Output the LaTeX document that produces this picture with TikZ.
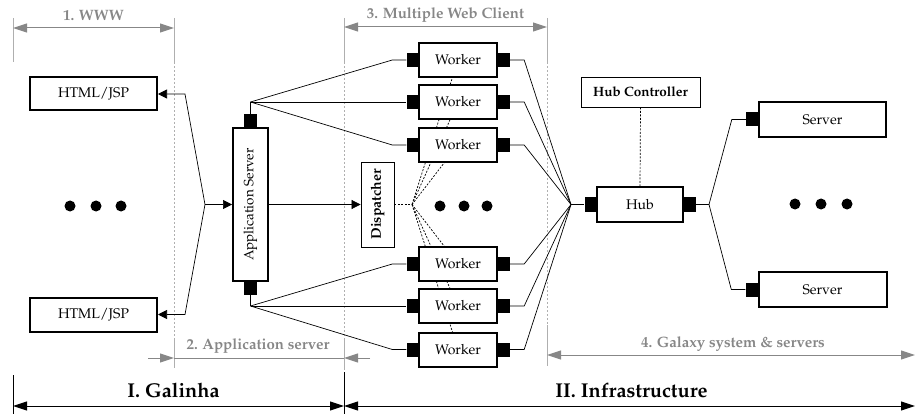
\documentclass[tikz,border=0pt]{standalone}
\usepackage[T1]{fontenc}
\usepackage{mathpazo}
\usetikzlibrary{arrows.meta,backgrounds}
\definecolor{dimgray}{RGB}{135,135,135}
\definecolor{guidegray}{RGB}{175,175,175}
\begin{document}
\begin{tikzpicture}[x=1pt,y=-1pt,
  box/.style={draw, line width=2pt, fill=white, inner sep=0pt, font=\fontsize{14}{16}\selectfont},
  wbox/.style={box, minimum width=78pt, minimum height=34pt},
  thinbox/.style={draw, line width=0.8pt, fill=white, inner sep=0pt, font=\bfseries\fontsize{13.5}{16}\selectfont},
  port/.style={fill=black, inner sep=0pt, minimum width=12pt, minimum height=14pt},
  vport/.style={fill=black, inner sep=0pt, minimum width=13pt, minimum height=13pt},
  conn/.style={line width=0.7pt},
  arr/.style={conn, -{Triangle[length=9pt,width=9pt]}},
  dotn/.style={circle, fill=black, inner sep=0pt, minimum size=11pt},
  guide/.style={guidegray, line width=0.8pt, dash pattern=on 2pt off 2pt},
  wit/.style={guidegray, line width=1pt},
  dimarr/.style={dimgray, line width=1pt, {Triangle[length=14pt,width=9pt]}-{Triangle[length=14pt,width=9pt]}},
  dimone/.style={dimgray, line width=1pt, -{Triangle[length=14pt,width=9pt]}},
  dimlab/.style={dimgray, font=\bfseries\fontsize{15}{17}\selectfont, inner sep=0pt},
  bigarr/.style={line width=1pt, {Triangle[length=14pt,width=9pt]}-{Triangle[length=14pt,width=9pt]}},
  biglab/.style={font=\bfseries\fontsize{20}{23}\selectfont, inner sep=0pt}
]
\useasboundingbox (0,0) rectangle (915,414);

% ---------- nodes ----------
\node[box, minimum width=127pt, minimum height=33pt] (h1) at (93.5,94) {HTML/JSP};
\node[box, minimum width=127pt, minimum height=34pt] (h2) at (93.5,314.5) {HTML/JSP};
\node[dotn] (ld1) at (70,206) {};
\node[dotn] (ld2) at (96,206) {};
\node[dotn] (ld3) at (121,206) {};

\node[box, minimum width=35pt, minimum height=153pt,
      label={[rotate=90, font=\fontsize{13.5}{16}\selectfont]center:Application Server}] (app) at (250.5,204.5) {};
\node[vport] (appT) at ([yshift=6.5pt]app.north) {};
\node[vport] (appB) at ([yshift=-6.5pt]app.south) {};
\coordinate (J1) at (250.5,102);
\coordinate (J2) at (250.5,306);
\coordinate (L) at (205,204.5);

\node[thinbox, minimum width=33pt, minimum height=85pt,
      label={[rotate=90, font=\bfseries\fontsize{14}{16}\selectfont]center:Dispatcher}] (disp) at (377.5,204.5) {};
\coordinate (D) at (412,204.5);

\foreach \i/\y in {1/60,2/102,3/145,4/264,5/306,6/349.5}{
  \node[wbox] (w\i) at (458,\y) {Worker};
  \node[port] (w\i l) at ([xshift=-5.5pt]w\i.west) {};
  \node[port] (w\i r) at ([xshift=6pt]w\i.east) {};
}
\node[dotn] (md1) at (440,206) {};
\node[dotn] (md2) at (464,206) {};
\node[dotn] (md3) at (487,206) {};

\node[wbox, minimum width=86pt, minimum height=35pt] (hub) at (640,204.5) {Hub};
\node[port] (hubL) at ([xshift=-5.5pt]hub.west) {};
\node[port] (hubR) at ([xshift=6pt]hub.east) {};
\coordinate (H) at (571,204.5);
\coordinate (S) at (709,204.5);
\node[thinbox, minimum width=119pt, minimum height=30pt] (hc) at (640.5,92) {Hub Controller};

\node[wbox, minimum width=127pt, minimum height=35pt] (s1) at (822.5,119.5) {Server};
\node[wbox, minimum width=128pt, minimum height=35pt] (s2) at (822.5,289.5) {Server};
\node[port] (s1p) at ([xshift=-6pt]s1.west) {};
\node[port] (s2p) at ([xshift=-6pt]s2.west) {};
\node[dotn] (rd1) at (795,204) {};
\node[dotn] (rd2) at (821,204) {};
\node[dotn] (rd3) at (847,204) {};

% ---------- background lines ----------
\begin{scope}[on background layer]
  \draw[guide] (174,62) -- (174,340);
  \draw[guide] (344,62) -- (344,340);
  \draw[guide] (547,62) -- (547,325);
  \foreach \i in {1,...,6} \draw[conn, dash pattern=on 2pt off 1.5pt] (D) -- (w\i.center);
\end{scope}

% ---------- connectors ----------
\draw[arr] (L) -- ([xshift=27pt]h1.east) -- (h1.east);
\draw[arr] (L) -- ([xshift=27pt]h2.east) -- (h2.east);
\draw[arr] (L) -- (app.west);
\draw[conn] (appT.north) -- (J1);
\draw[conn] (appB.south) -- (J2);
\draw[arr] (app.east) -- (disp.west);
\draw[conn, dash pattern=on 2pt off 1.5pt] (disp.east) -- (D);

\foreach \i in {1,3}{
  \draw[conn] (J1) -- ([xshift=-14pt]w\i l.west) -- (w\i l.west);
}
\draw[conn] (J1) -- (w2l.west);
\foreach \i in {4,6}{
  \draw[conn] (J2) -- ([xshift=-14pt]w\i l.west) -- (w\i l.west);
}
\draw[conn] (J2) -- (w5l.west);
\foreach \i in {1,...,6}{
  \draw[conn] (w\i r.east) -- ([xshift=14pt]w\i r.east) -- (H);
}
\draw[conn] (H) -- (hubL.west);
\draw[conn] (hubR.east) -- (S);
\draw[conn] (S) -- ([xshift=-14pt]s1p.west) -- (s1p.west);
\draw[conn] (S) -- ([xshift=-14pt]s2p.west) -- (s2p.west);
\draw[conn, dash pattern=on 2pt off 1.5pt] (hc.south) -- (hub.north);

% ---------- dimension lines ----------
\draw[wit] (13,18) -- (13,62);
\draw[wit] (174,18) -- (174,62);
\draw[wit] (344,18) -- (344,62);
\draw[wit] (547,18) -- (547,62);
\coordinate (a1) at (13,28);
\coordinate (a2) at (174,28);
\draw[dimarr] (a1) -- (a2);
\node[dimlab] (l1) at (93.5,15) {1. WWW};
\coordinate (c1) at (344,27);
\coordinate (c2) at (547,27);
\draw[dimarr] (c1) -- (c2);
\node[dimlab] (l3) at (445.5,15) {3. Multiple Web Client};

\draw[wit] (174,340) -- (174,368);
\draw[wit] (344,340) -- (344,370);
\coordinate (b0) at (148,358);
\coordinate (b1) at (174,358);
\coordinate (b2) at (344,358);
\coordinate (b3) at (370,358);
\draw[dimone] (b0) -- (b1);
\draw[dimone] (b3) -- (b2);
\draw[dimgray, line width=1pt] (b1) -- (b2);
\node[dimlab] (l2) at (258,346) {2. Application server};

\draw[wit] (547,325) -- (547,366);
\coordinate (g1) at (547,355);
\coordinate (g2) at (915,355);
\draw[dimarr] (g1) -- (g2);
\node[dimlab] (l4) at (733,344) {4. Galaxy system \& servers};

% ---------- bottom ----------
\draw[line width=1pt] (13,375) -- (13,414);
\draw[line width=1pt] (344,372) -- (344,414);
\coordinate (k1) at (13,406);
\coordinate (k2) at (344,406);
\coordinate (k3) at (915,406);
\draw[bigarr] (k1) -- (k2);
\draw[bigarr] (k2) -- (k3);
\node[biglab] (t1) at (173.5,390) {I. Galinha};
\node[biglab] (t2) at (631.5,390) {II. Infrastructure};
\end{tikzpicture}
\end{document}
